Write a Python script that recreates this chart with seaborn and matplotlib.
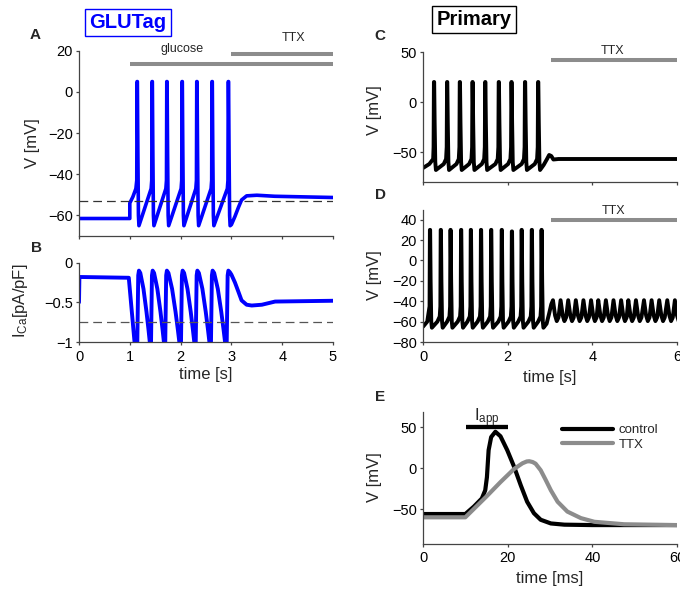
import matplotlib
matplotlib.use("Agg")
import matplotlib.pyplot as plt
import seaborn as sns

# ---------------- data ----------------
# Panel A (GLUTag, membrane potential, mV vs s)
A_spike_t = [1.145, 1.44, 1.73, 2.03, 2.32, 2.62, 2.94]
A_peak = 5.0
A_trough = -65.0
A_pre = -47.0
A_rest = -61.5
A_post_t = [3.0, 3.07, 3.14, 3.2, 3.3, 3.5, 3.85, 5.0]
A_post_v = [-64.5, -60.5, -56.0, -52.5, -50.5, -50.2, -50.7, -51.3]
A_thresh = -53.0

# Panel B (GLUTag, Ca current, pA/pF vs s)
B_peak_t = [1.18, 1.45, 1.73, 2.04, 2.33, 2.63, 2.94]
B_peak_v = -0.1
B_pre_t = [0.0, 0.008, 0.98, 1.1]
B_pre_v = [-0.5, -0.18, -0.19, -1.05]
B_post_t = [2.97, 3.0, 3.07, 3.14, 3.2, 3.3, 3.4, 3.6, 3.86, 5.0]
B_post_v = [-0.12, -0.15, -0.25, -0.37, -0.475, -0.53, -0.54, -0.53, -0.49, -0.48]
B_thresh = -0.75

# Panel C (primary, control then TTX)
C_spike_t = [0.26, 0.57, 0.87, 1.17, 1.47, 1.79, 2.09, 2.41, 2.72]
C_peak = 20.0
C_trough = -68.0
C_pre = -57.0
C_start_t = [0.0, 0.15, 0.24]
C_start_v = [-66.0, -62.0, -57.0]
C_post_t = [2.85, 2.93, 2.98, 3.03, 3.08, 3.2, 6.0]
C_post_v = [-63.0, -57.0, -53.0, -54.0, -57.5, -57.0, -57.0]

# Panel D (primary, control then TTX oscillations)
D_spike_t = [0.165, 0.42, 0.65, 0.90, 1.13, 1.37, 1.61, 1.86, 2.10, 2.33, 2.57, 2.80]
D_peak = [30, 30, 30, 30, 30, 30, 30, 30, 28.5, 30, 30, 30]
D_trough = -66.0
D_pre = -55.0
D_start_t = [0.0, 0.1]
D_start_v = [-65.0, -60.0]
D_mid_t = [2.92, 2.98, 3.03]
D_mid_v = [-62.0, -52.0, -43.0]
D_osc_t = [3.07, 3.25, 3.43, 3.61, 3.79, 3.97, 4.14, 4.32, 4.50, 4.68,
           4.85, 5.03, 5.22, 5.40, 5.58, 5.77, 5.95]
D_osc_peak = -39.0
D_osc_trough = -59.5

# Panel E (single action potential, mV vs ms)
E_ctrl_t = [0, 10, 12, 13.9, 14.7, 15.1, 15.5, 16.1, 17.1, 18.3, 19.9, 21.5,
            23.1, 24.6, 26.2, 27.8, 30.2, 33.4, 40, 60]
E_ctrl_v = [-56, -56, -47, -37, -27, -11, 22, 38, 44.5, 39, 22, 2,
            -21, -41, -55, -63, -67.5, -69, -69.5, -69.5]
E_ttx_t = [0, 10, 15.1, 18.3, 21.5, 23.5, 24.5, 25.1, 25.9, 26.6, 27.8, 29, 30.2, 31.8,
           34.1, 37.3, 40.5, 47.5, 60]
E_ttx_v = [-60, -60, -34, -17, -1, 6, 8.2, 8.5, 7.5, 5.5, -2.5, -14.5, -27, -41,
           -53, -61, -65.5, -68.5, -69.5]
E_iapp = [10.1, 20.0]

# treatment bars
A_glucose = [1.0, 5.0]
A_ttx = [3.0, 5.0]
C_ttx = [3.02, 6.0]
D_ttx = [3.02, 6.0]

# ---------------- trace construction ----------------
def build_A():
    t = [0.0, 1.0, 1.0, 1.06, 1.12]
    v = [A_rest, A_rest, -54.0, -51.0, A_pre]
    for i, ts in enumerate(A_spike_t):
        t += [ts - 0.008, ts - 0.002, ts + 0.004, ts + 0.014, ts + 0.025, ts + 0.035]
        v += [-43.0, A_peak, A_peak, -30.0, -60.0, A_trough]
        if i < len(A_spike_t) - 1:
            t.append(A_spike_t[i + 1] - 0.02)
            v.append(A_pre)
    return t + A_post_t, v + A_post_v


def build_B():
    t = list(B_pre_t)
    v = list(B_pre_v)
    n = len(B_peak_t)
    for i, tp in enumerate(B_peak_t):
        t += [tp - 0.04, tp - 0.032, tp - 0.014, tp]
        v += [-1.4, -1.0, -0.16, B_peak_v]
        if i < n - 1:
            d = B_peak_t[i + 1] - tp
            for f, val in zip([0.1, 0.33, 0.55, 0.7, 0.82],
                              [-0.13, -0.33, -0.62, -0.85, -1.05]):
                t.append(tp + f * d)
                v.append(val)
    return t + B_post_t, v + B_post_v


def build_spikes(start_t, start_v, spike_t, peaks, trough, pre):
    t = list(start_t)
    v = list(start_v)
    for i, ts in enumerate(spike_t):
        pk = peaks[i]
        t += [ts - 0.01, ts - 0.002, ts + 0.004, ts + 0.015, ts + 0.03, ts + 0.045]
        v += [-45.0, pk, pk, -20.0, -60.0, trough]
        if i < len(spike_t) - 1:
            tn = spike_t[i + 1]
            t += [tn - 0.08, tn - 0.025]
            v += [trough + 6.0, pre]
    return t, v


def build_C():
    t, v = build_spikes(C_start_t, C_start_v, C_spike_t,
                        [C_peak] * len(C_spike_t), C_trough, C_pre)
    return t + C_post_t, v + C_post_v


def build_D():
    t, v = build_spikes(D_start_t, D_start_v, D_spike_t, D_peak, D_trough, D_pre)
    t += D_mid_t
    v += D_mid_v
    for tp in D_osc_t:
        t += [tp, tp + 0.05, tp + 0.09, tp + 0.13]
        v += [D_osc_peak, -54.0, D_osc_trough, -56.0]
    return t, v


# ---------------- styling ----------------
sns.set_style("ticks")
plt.rcParams.update({
    "font.family": ["Liberation Sans", "DejaVu Sans"],
    "axes.edgecolor": "#444444",
    "axes.linewidth": 0.9,
    "xtick.color": "#444444",
    "ytick.color": "#444444",
    "xtick.labelcolor": "black",
    "ytick.labelcolor": "black",
    "xtick.major.size": 2.5,
    "ytick.major.size": 2.5,
    "xtick.major.width": 0.9,
    "ytick.major.width": 0.9,
    "xtick.major.pad": 3.0,
    "ytick.major.pad": 2.0,
    "xtick.labelsize": 10.5,
    "ytick.labelsize": 10.5,
    "axes.labelsize": 12,
})

BLUE = "#0000ff"
GRAY = "#8c8c8c"
W, H = 680.0, 592.0

fig = plt.figure(figsize=(6.8, 5.92), dpi=100)


def add_axes(left, right, top, bottom):
    return fig.add_axes([left / W, 1 - bottom / H, (right - left) / W, (bottom - top) / H])


axA = add_axes(79, 333, 50.7, 236)
axB = add_axes(79, 333, 262.7, 342)
axC = add_axes(423, 677, 52, 182)
axD = add_axes(423, 677, 209.5, 342)
axE = add_axes(423, 677, 411.7, 543.5)

line_kw = dict(sort=False, estimator=None, solid_joinstyle="round",
               solid_capstyle="round")

tA, vA = build_A()
sns.lineplot(x=tA, y=vA, ax=axA, color=BLUE, linewidth=2.6, **line_kw)
tB, vB = build_B()
sns.lineplot(x=tB, y=vB, ax=axB, color=BLUE, linewidth=2.8, **line_kw)
tC, vC = build_C()
sns.lineplot(x=tC, y=vC, ax=axC, color="black", linewidth=2.8, **line_kw)
tD, vD = build_D()
sns.lineplot(x=tD, y=vD, ax=axD, color="black", linewidth=2.8, **line_kw)
sns.lineplot(x=E_ctrl_t, y=E_ctrl_v, ax=axE, color="black", linewidth=3.0,
             label="control", **line_kw)
sns.lineplot(x=E_ttx_t, y=E_ttx_v, ax=axE, color=GRAY, linewidth=3.0,
             label="TTX", **line_kw)

dash = (0, (7, 4))
axA.axhline(A_thresh, color="#333333", lw=0.9, ls=dash)
axB.axhline(B_thresh, color="#555555", lw=0.9, ls=dash)

# treatment bars
bar_kw = dict(color=GRAY, lw=2.9, solid_capstyle="butt", clip_on=False)
axA.plot(A_glucose, [13.4, 13.4], **bar_kw)
axA.plot(A_ttx, [18.4, 18.4], **bar_kw)
axC.plot(C_ttx, [41.7, 41.7], **bar_kw)
axD.plot(D_ttx, [40.0, 40.0], **bar_kw)
axE.plot(E_iapp, [49.7, 49.7], color="black", lw=3.1, solid_capstyle="butt")

axA.text(2.03, 20.8, "glucose", ha="center", va="center", fontsize=9, clip_on=False)
axA.text(4.23, 26.2, "TTX", ha="center", va="center", fontsize=9, clip_on=False)
axC.text(4.48, 50.7, "TTX", ha="center", va="center", fontsize=9, clip_on=False)
axD.text(4.51, 49.0, "TTX", ha="center", va="center", fontsize=9, clip_on=False)
axE.text(12.0, 57.0, r"$\mathregular{I_{app}}$", ha="left", va="baseline", fontsize=12)

# limits & ticks
axA.set_xlim(0, 5); axA.set_ylim(-70, 20)
axA.set_xticks(range(0, 6)); axA.set_xticklabels([])
axA.set_yticks([-60, -40, -20, 0, 20])

axB.set_xlim(0, 5); axB.set_ylim(-1, 0)
axB.set_xticks(range(0, 6))
axB.set_yticks([-1, -0.5, 0]); axB.set_yticklabels(["\u22121", "\u22120.5", "0"])

axC.set_xlim(0, 6); axC.set_ylim(-80, 50)
axC.set_xticks([0, 2, 4, 6]); axC.set_xticklabels([])
axC.set_yticks([-50, 0, 50])

axD.set_xlim(0, 6); axD.set_ylim(-80, 50)
axD.set_xticks([0, 2, 4, 6])
axD.set_yticks([-80, -60, -40, -20, 0, 20, 40])

axE.set_xlim(0, 60); axE.set_ylim(-92, 69)
axE.set_xticks([0, 20, 40, 60])
axE.set_yticks([-50, 0, 50])

for ax in (axA, axB, axC, axD, axE):
    sns.despine(ax=ax)
    ax.set_xlabel("")
    ax.set_ylabel("")

# axis labels (positions from pixel measurements)
def ylab(ax, text, xpix, ypix, left, right, top, bottom):
    ax.set_ylabel(text, va="center")
    ax.yaxis.set_label_coords((xpix - left) / (right - left), (bottom - ypix) / (bottom - top))


def xlab(ax, text, xpix, ypix, left, right, top, bottom):
    ax.set_xlabel(text, va="center")
    ax.xaxis.set_label_coords((xpix - left) / (right - left), (bottom - ypix) / (bottom - top))


ylab(axA, "V [mV]", 33, 143, 79, 333, 50.7, 236)
ylab(axB, r"$\mathregular{I_{Ca}}$[pA/pF]", 21, 301, 79, 333, 262.7, 342)
xlab(axB, "time [s]", 205.7, 375, 79, 333, 262.7, 342)
ylab(axC, "V [mV]", 375, 110, 423, 677, 52, 182)
ylab(axD, "V [mV]", 375, 275, 423, 677, 209.5, 342)
xlab(axD, "time [s]", 550, 377.5, 423, 677, 209.5, 342)
ylab(axE, "V [mV]", 375, 477, 423, 677, 411.7, 543.5)
xlab(axE, "time [ms]", 549.5, 579, 423, 677, 411.7, 543.5)

leg = axE.legend(loc="upper left", bbox_to_anchor=((562 - 423) / 254, (543.5 - 424) / 131.8),
                 frameon=False, fontsize=9.5, handlelength=3.9, handletextpad=0.4,
                 labelspacing=0.2, borderpad=0, borderaxespad=0)

# panel letters
for letter, (xp, yp) in {"A": (35.5, 35), "B": (36.5, 248), "C": (380, 36),
                         "D": (380, 195), "E": (380, 397)}.items():
    fig.text(xp / W, 1 - yp / H, letter, ha="center", va="center",
             fontsize=11, fontweight="bold")

# titles
fig.text(128 / W, 1 - 22.5 / H, "GLUTag", ha="center", va="center", color=BLUE,
         fontsize=14.5, fontweight="bold",
         bbox=dict(boxstyle="square,pad=0.2", fc="white", ec=BLUE, lw=1.0))
fig.text(474 / W, 1 - 19.5 / H, "Primary", ha="center", va="center", color="black",
         fontsize=14.5, fontweight="bold",
         bbox=dict(boxstyle="square,pad=0.2", fc="white", ec="black", lw=1.0))

fig.savefig("out.png", dpi=100)
